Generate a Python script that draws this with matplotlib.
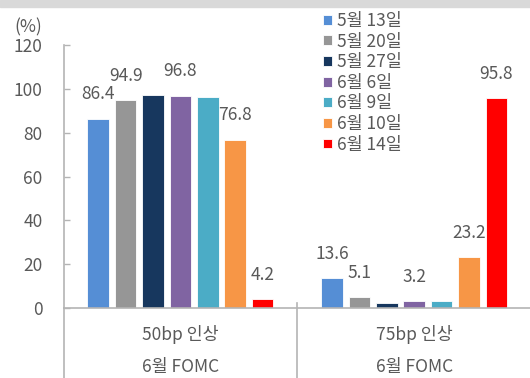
import numpy as np
import matplotlib.pyplot as plt
from matplotlib.patches import Rectangle
from matplotlib.transforms import blended_transform_factory

plt.rcParams['font.family'] = ['Noto Sans CJK KR', 'DejaVu Sans']

# 금리 인상 확률 (%), 6월 FOMC
groups = ['50bp 인상', '75bp 인상']
group_sub = '6월 FOMC'
dates = ['5월 13일', '5월 20일', '5월 27일', '6월 6일', '6월 9일', '6월 10일', '6월 14일']
hike_50 = [86.4, 94.9, 97.3, 96.8, 96.1, 76.8, 4.2]
hike_75 = [13.6, 5.1, 2.3, 3.2, 3.5, 23.2, 95.8]
labels_50 = ['86.4', '94.9', '', '96.8', '', '76.8', '4.2']
labels_75 = ['13.6', '5.1', '', '3.2', '', '23.2', '95.8']
colors = ['#558ED5', '#969696', '#17375E', '#8064A2', '#4BACC6', '#F79646', '#FF0000']

TXT = '#595959'
LINE = '#B4B4B4'

fig = plt.figure(figsize=(5.3, 3.78), dpi=100)
fig.patches.append(Rectangle((0, 371 / 378), 1, 7 / 378, transform=fig.transFigure,
                             color='#D9D9D9', zorder=0))

ax = fig.add_axes([63.5 / 530, 69.7 / 378, 467.6 / 530, 263.6 / 378])

x = np.arange(len(groups))
pitch = 0.1172
width = 0.092
for i, (d, c) in enumerate(zip(dates, colors)):
    vals = [hike_50[i], hike_75[i]]
    xs = x + (i - 3) * pitch
    ax.bar(xs, vals, width=width, color=c, edgecolor='white', linewidth=0.6, label=d, zorder=2)
    for xi, v, lab in zip(xs, vals, [labels_50[i], labels_75[i]]):
        if lab:
            ax.annotate(lab, (xi, v), xytext=(0, 17.5), textcoords='offset points',
                        ha='center', va='center', fontsize=12.5, color=TXT)

ax.set_xlim(-0.5, 1.5)
ax.set_ylim(0, 120)
ax.set_yticks(range(0, 121, 20))
ax.set_xticks([])
ax.tick_params(axis='y', direction='in', length=4.5, width=1, color=LINE,
               labelsize=12.5, labelcolor=TXT, pad=15)
for s in ['top', 'right']:
    ax.spines[s].set_visible(False)
for s in ['left', 'bottom']:
    ax.spines[s].set_color(LINE)
    ax.spines[s].set_linewidth(1.2)

# 다단 범주 축: 구분선과 라벨
tr = blended_transform_factory(ax.transData, ax.transAxes)
for xv, y0 in [(-0.5, 0), (0.5, 0.02)]:
    ax.plot([xv, xv], [y0, -0.27], transform=tr, color=LINE, lw=1.2, clip_on=False)
for xi, g in zip(x, groups):
    ax.text(xi, -0.098, g, transform=tr, ha='center', va='center', fontsize=12.5, color=TXT)
    ax.text(xi, -0.222, group_sub, transform=tr, ha='center', va='center', fontsize=12.5, color=TXT)

fig.text(42 / 530, 1 - 27 / 378, '(%)', ha='right', va='center', fontsize=12.5, color=TXT)

leg = ax.legend(loc='upper left', bbox_to_anchor=(323 / 530, 1 - 12 / 378),
                bbox_transform=fig.transFigure, frameon=False, fontsize=12.5,
                handlelength=0.5, handleheight=0.5, handletextpad=0.3,
                labelspacing=0.15, borderaxespad=0, borderpad=0)
for t in leg.get_texts():
    t.set_color(TXT)

fig.savefig('out.png', dpi=100)
